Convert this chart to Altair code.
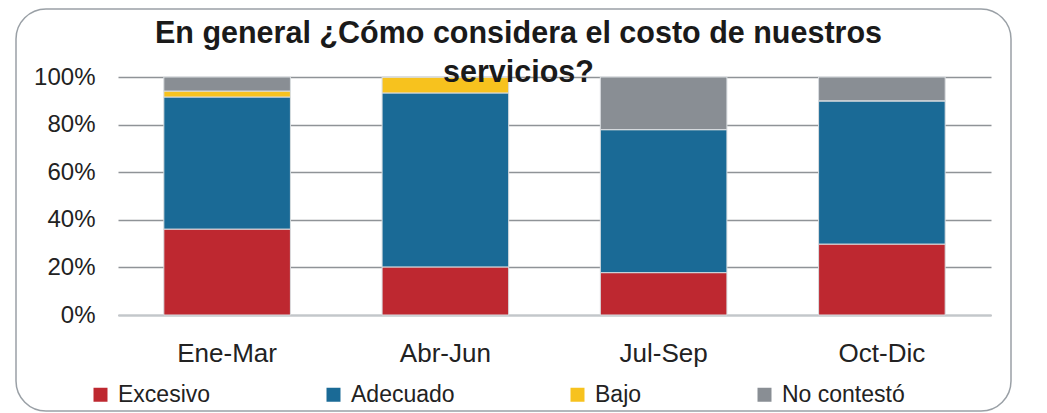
import altair as alt
import pandas as pd

periods = ["Ene-Mar", "Abr-Jun", "Jul-Sep", "Oct-Dic"]
series = ["Excesivo", "Adecuado", "Bajo", "No contestó"]
excesivo = [36.1, 20.2, 17.8, 29.8]
adecuado = [55.5, 73.1, 60.1, 60.2]
bajo = [2.5, 6.7, 0.0, 0.0]
no_contesto = [5.9, 0.0, 22.1, 10.0]
colors = ["#BE2830", "#1A6A96", "#F7C21E", "#898E94"]
title_text = "En general ¿Cómo considera el costo de nuestros\nservicios?"

rows = []
for i, p in enumerate(periods):
    for j, (s, vals) in enumerate(zip(series, [excesivo, adecuado, bajo, no_contesto])):
        rows.append({"periodo": p, "serie": s, "valor": vals[i], "idx": j})
df = pd.DataFrame(rows)

font = "Liberation Sans"

bars = alt.Chart(df).mark_bar(stroke="#d9dde0", strokeWidth=1).encode(
    x=alt.X("periodo:N", sort=periods, title=None,
            scale=alt.Scale(paddingInner=0.42, paddingOuter=0.21),
            axis=alt.Axis(labelAngle=0, labelFontSize=26, labelFont=font, labelColor="#222222",
                          labelPadding=25, ticks=False, tickSize=0, domainColor="#c3c7cb",
                          domainWidth=2, grid=False)),
    y=alt.Y("valor:Q", stack="normalize", title=None,
            scale=alt.Scale(domain=[0, 1]),
            axis=alt.Axis(format="%", values=[0, 0.2, 0.4, 0.6, 0.8, 1.0], labelFontSize=24,
                          labelFont=font, labelColor="#222222", labelPadding=23, ticks=False,
                          tickSize=0, domain=False, gridColor="#8f9397", gridWidth=1.3)),
    color=alt.Color("serie:N", sort=series,
                    scale=alt.Scale(domain=series, range=colors),
                    legend=alt.Legend(title=None, orient="none", direction="horizontal",
                                      legendX=-29, legendY=306, symbolType="square",
                                      symbolSize=196, symbolStrokeWidth=0, symbolOpacity=1,
                                      labelFontSize=23, labelFont=font, labelColor="#222222",
                                      labelOffset=6, columnPadding=111, padding=0,
                                      labelLimit=300)),
    order=alt.Order("idx:Q", sort="ascending"),
)

border = alt.Chart(pd.DataFrame({"a": [0]})).mark_rect(
    fill=None, stroke="#9aa0a6", strokeWidth=1.5, cornerRadius=30
).encode(
    x=alt.value(-102), x2=alt.value(893), y=alt.value(-68), y2=alt.value(334)
)

title = alt.Chart(pd.DataFrame({"t": [title_text]})).mark_text(
    font=font, fontSize=30.5, fontWeight="bold", color="#1a1a1a", align="center",
    baseline="alphabetic", lineBreak="\n", lineHeight=39
).encode(
    text="t:N", x=alt.value(400.5), y=alt.value(-33.7)
)

chart = alt.layer(border, bars, title).properties(
    width=873, height=238,
    autosize=alt.AutoSizeParams(type="none"),
    padding={"left": 110, "top": 69, "right": 48, "bottom": 100},
).configure_view(stroke=None)

chart.save("out.html", embed_options={"renderer": "svg", "actions": False})
